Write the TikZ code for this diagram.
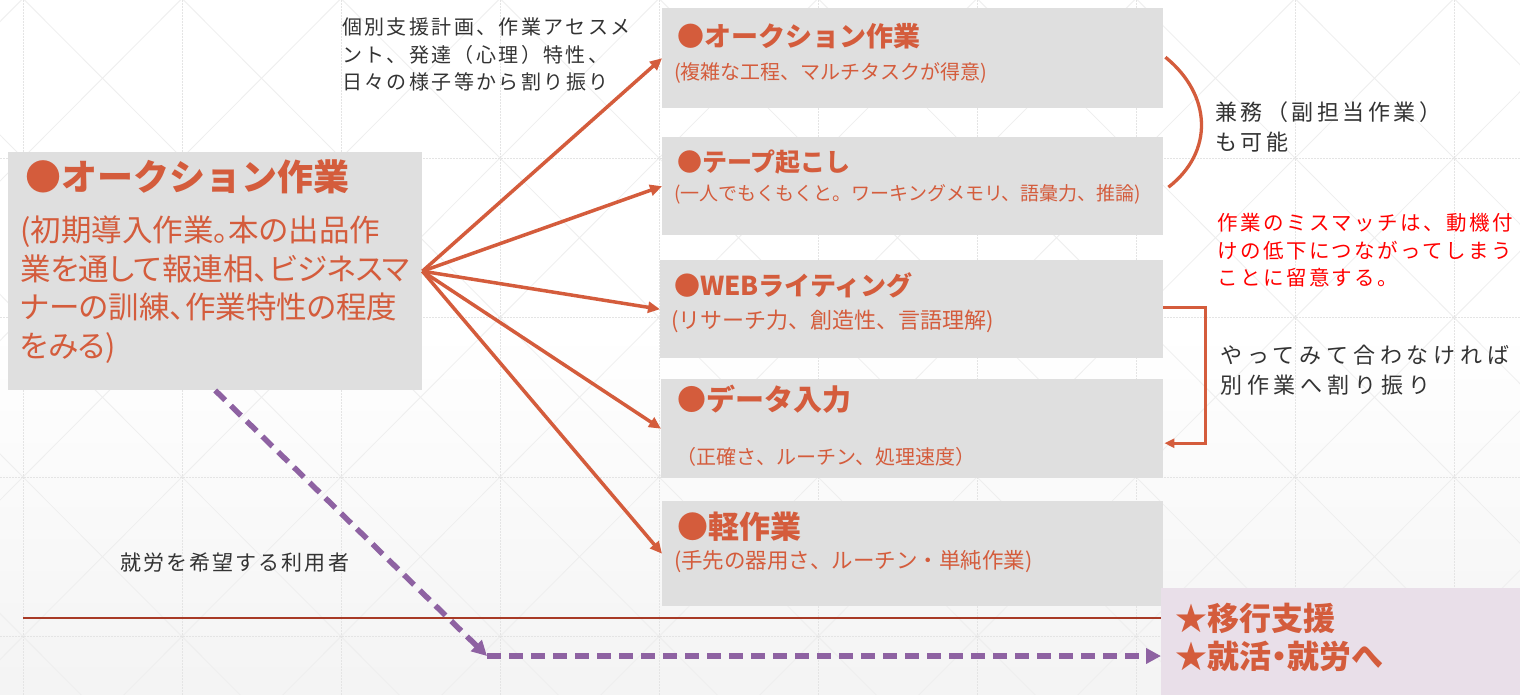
\documentclass[tikz,border=0pt]{standalone}
\usepackage{fontspec}
\setmainfont{Noto Sans CJK JP}
\newfontfamily\jpp[RawFeature=+palt]{Noto Sans CJK JP}
\newfontfamily\jpn{Noto Sans CJK JP}
\usetikzlibrary{arrows.meta}
\definecolor{org}{RGB}{212,92,60}
\definecolor{boxg}{RGB}{223,223,223}
\definecolor{pinkb}{RGB}{233,223,233}
\definecolor{purp}{RGB}{142,98,162}
\definecolor{dred}{RGB}{168,58,38}
\definecolor{txt}{RGB}{51,51,51}
\definecolor{gridc}{RGB}{228,228,228}
\definecolor{diagc}{RGB}{238,238,238}
\definecolor{bgb}{RGB}{244,244,244}
\newcommand\fz[2]{\fontsize{#1}{#2}\selectfont}
\begin{document}
\begin{tikzpicture}[x=1pt,y=-1pt,
  gbox/.style={fill=boxg, draw=none, inner sep=0pt, anchor=north west},
  pbox/.style={fill=pinkb, draw=none, inner sep=0pt, anchor=north west},
  otxt/.style={text=org, inner sep=0pt, anchor=west},
  dtxt/.style={text=txt, inner sep=0pt, anchor=north west, align=left},
  oarrow/.style={draw=org, line width=3.5pt, -{Triangle[length=12pt,width=11pt]}},
  oline/.style={draw=org, line width=3.3pt},
  parrow/.style={draw=purp, line width=5.5pt, dash pattern=on 14pt off 8pt, -{Triangle[length=15pt,width=15pt]}},
  gridl/.style={draw=gridc, line width=0.8pt, dash pattern=on 2pt off 1pt},
  diagl/.style={draw=diagc, line width=0.8pt}
]
\useasboundingbox (0,0) rectangle (1520,695);
% background
\begin{scope}
\clip (0,0) rectangle (1520,695);
\fill[white] (0,0) rectangle (1520,695);
\shade[top color=white, bottom color=bgb] (0,330) rectangle (1520,683);
\fill[bgb] (0,683) rectangle (1520,695);
\foreach \i in {-1,...,9} {
  \foreach \j in {0,...,4} {
    \draw[diagl] ({23+159*\i},{-1.5+159.5*\j}) -- ({182+159*\i},{158+159.5*\j});
    \draw[diagl] ({182+159*\i},{-1.5+159.5*\j}) -- ({23+159*\i},{158+159.5*\j});
  }
}
\foreach \i in {0,...,9} {\draw[gridl] ({23+159*\i},0) -- ({23+159*\i},695);}
\foreach \j in {1,...,4} {\draw[gridl] (0,{-1.5+159.5*\j}) -- (1520,{-1.5+159.5*\j});}
\end{scope}

% left box
\node[gbox, minimum width=414pt, minimum height=238pt] (L) at (8,152) {};
\node[otxt, font=\jpn\bfseries\fz{36}{40}] (Lt) at (25,177) {●オークション作業};
\node[otxt, anchor=north west, align=left, font=\jpp\fz{30.5}{38.5}] (Lb) at (20,216)
  {(初期導入作業。本の出品作\\業を通して報連相、ビジネスマ\\ナーの訓練、作業特性の程度\\をみる)};

% right boxes
\node[gbox, minimum width=501pt, minimum height=100pt] (b1) at (662,8) {};
\node[gbox, minimum width=501pt, minimum height=98pt] (b2) at (662,137) {};
\node[gbox, minimum width=503pt, minimum height=98pt] (b3) at (660,260) {};
\node[gbox, minimum width=502pt, minimum height=99pt] (b4) at (661,379) {};
\node[gbox, minimum width=501pt, minimum height=105pt] (b5) at (662,501) {};

\node[otxt, font=\jpn\bfseries\fz{27}{30}] (t1) at (677,36) {●オークション作業};
\node[otxt, font=\jpn\fz{20}{24}] (s1) at (674,73) {(複雑な工程、マルチタスクが得意)};
\node[otxt, font=\jpn\bfseries\fz{25}{30}] (t2) at (677,162) {●テープ起こし};
\node[otxt, font=\jpn\fz{19}{24}] (s2) at (674,194) {(一人でもくもくと。ワーキングメモリ、語彙力、推論)};
\node[otxt, font=\jpn\bfseries\fz{26}{30}] (t3) at (674,285) {●WEBライティング};
\node[otxt, font=\jpn\fz{22}{24}] (s3) at (671,321) {(リサーチ力、創造性、言語理解)};
\node[otxt, font=\jpn\bfseries\fz{29}{32}] (t4) at (677,399) {●データ入力};
\node[otxt, font=\jpn\fz{20}{24}] (s4) at (676,457) {（正確さ、ルーチン、処理速度）};
\node[otxt, font=\jpn\bfseries\fz{31}{34}] (t5) at (677,527) {●軽作業};
\node[otxt, font=\jpn\fz{21.5}{24}] (s5) at (674,562) {(手先の器用さ、ルーチン・単純作業)};

% pink box
\node[pbox, minimum width=360pt, minimum height=108pt] (P) at (1161,588) {};
\node[otxt, anchor=north west, align=left, font=\jpp\bfseries\fz{32}{38}] (Pt) at (1175,603)
  {★移行支援\\★就活・就労へ};

% annotations
\node[dtxt, font=\jpn\addfontfeature{LetterSpace=12}\fz{20}{27.5}] (an1) at (342,17.5)
  {個別支援計画、作業アセスメ\\ント、発達（心理）特性、\\日々の様子等から割り振り};
\node[dtxt, font=\jpn\addfontfeature{LetterSpace=16}\fz{22}{30}] (an2) at (1215,101.5)
  {兼務（副担当作業）\\も可能};
\node[dtxt, text=red, font=\jpn\addfontfeature{LetterSpace=12}\fz{20.5}{27.5}] (an3) at (1217,213.5)
  {作業のミスマッチは、動機付\\けの低下につながってしまう\\ことに留意する。};
\node[dtxt, font=\jpn\addfontfeature{LetterSpace=22}\fz{22}{30}] (an4) at (1220,345)
  {やってみて合わなければ\\別作業へ割り振り};
\node[dtxt, anchor=west, font=\jpn\addfontfeature{LetterSpace=10}\fz{21}{24}] (an5) at (120,563)
  {就労を希望する利用者};

% fan arrows
\foreach \b in {b1,b2,b3,b4,b5} {\draw[oarrow] (L.east) -- (\b.west);}

% arc
\coordinate (arcA) at ([xshift=2pt,yshift=1pt]b1.east);
\coordinate (arcB) at ([xshift=5pt,yshift=-1pt]b2.east);
\draw[oline] (arcA) .. controls (1212,95) and (1214,152) .. (arcB);

% bracket
\draw[oline, -{Triangle[length=10pt,width=9pt]}] ([yshift=2pt]b3.east) -- ++(42,0) |- ([xshift=1pt,yshift=-14.5pt]b4.east);

% horizontal rule
\coordinate (hl) at (23,618);
\draw[dred, line width=2.5pt] (hl) -- (hl -| P.west);

% purple dashed path
\coordinate (bend) at (487,656);
\draw[parrow] (L.south) -- (bend);
\draw[parrow] (bend) -- (bend -| P.west);
\end{tikzpicture}
\end{document}
